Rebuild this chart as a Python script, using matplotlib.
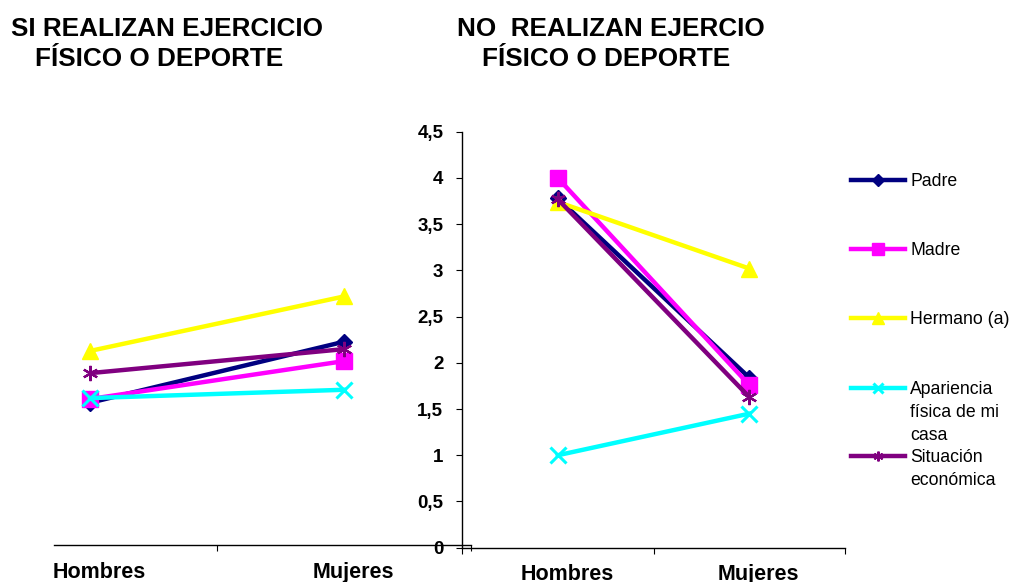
import matplotlib
matplotlib.use("Agg")
import matplotlib.pyplot as plt
from matplotlib.lines import Line2D
from matplotlib.transforms import ScaledTranslation

plt.rcParams['font.family'] = ['Liberation Sans', 'DejaVu Sans']

# ---- data ----
categories = ["Hombres", "Mujeres"]
series_names = ["Padre", "Madre", "Hermano (a)", "Apariencia\nfísica de mi\ncasa", "Situación\neconómica"]

si_padre = [1.54, 2.20]
si_madre = [1.58, 1.99]
si_hermano = [2.10, 2.69]
si_apariencia = [1.59, 1.68]
si_situacion = [1.86, 2.12]

no_padre = [3.78, 1.84]
no_madre = [4.00, 1.76]
no_hermano = [3.74, 3.02]
no_apariencia = [1.00, 1.45]
no_situacion = [3.77, 1.63]

y_ticks = [0, 0.5, 1, 1.5, 2, 2.5, 3, 3.5, 4, 4.5]
y_tick_labels = ["0", "0,5", "1", "1,5", "2", "2,5", "3", "3,5", "4", "4,5"]

title_si = ["SI REALIZAN EJERCICIO", "FÍSICO O DEPORTE"]
title_no = ["NO  REALIZAN EJERCIO", "FÍSICO O DEPORTE"]

# ---- styles ----
colors = ["#000080", "#FF00FF", "#FFFF00", "#00FFFF", "#800080"]
markers = ["D", "s", "^", "x", (6, 2, 0)]
msizes = [8, 12, 12, 12, 11]
mews = [1, 1, 1, 2.2, 1.6]

W, H = 1021, 582
fig = plt.figure(figsize=(W / 100, H / 100), dpi=100)
fig.patch.set_facecolor("white")


def rect(x0, y0, x1, y1):
    """pixel box (top-left origin) -> figure fraction [l, b, w, h]"""
    return [x0 / W, 1 - y1 / H, (x1 - x0) / W, (y1 - y0) / H]


def px_text(x, y, s, **kw):
    fig.text(x / W, 1 - y / H, s, **kw)


ax_si = fig.add_axes(rect(54, 545 - 4.5 * 92.4, 471, 545))
ax_no = fig.add_axes(rect(462, 131.7, 845, 547.7))

si_data = [si_padre, si_madre, si_hermano, si_apariencia, si_situacion]
no_data = [no_padre, no_madre, no_hermano, no_apariencia, no_situacion]
xs = list(range(len(categories)))

# left panel: no visible value axis
ax_si.set_xlim(-0.1417, 1.5)
ax_si.set_xticks([0.5, 1.5])
ax_si.spines["left"].set_visible(False)
ax_si.set_yticks([])

# right panel with value axis
ax_no.set_xlim(-0.5, 1.5)
ax_no.set_xticks([-0.5, 0.5, 1.5])
ax_no.spines["left"].set_linewidth(1.0)
ax_no.set_yticks(y_ticks)
ax_no.set_yticklabels(y_tick_labels, fontsize=13.5, fontweight="bold")
ax_no.tick_params(axis="y", length=4.5, width=0.8, direction="out", pad=9)

for ax, data in ((ax_si, si_data), (ax_no, no_data)):
    ax.set_facecolor("none")
    for vals, c, m, ms, mew in zip(data, colors, markers, msizes, mews):
        ax.plot(xs, vals, color=c, lw=3.2, marker=m, markersize=ms,
                markerfacecolor=c, markeredgecolor=c, markeredgewidth=mew,
                solid_joinstyle="miter", clip_on=False)
    ax.set_ylim(0, 4.5)
    for s in ("top", "right"):
        ax.spines[s].set_visible(False)
    ax.spines["bottom"].set_linewidth(1.0)
    ax.spines["bottom"].set_color("black")
    ax.tick_params(axis="x", which="major", length=4.5, width=0.8,
                   direction="out", labelbottom=False)
    # category labels on minor ticks
    ax.set_xticks(xs, minor=True)
    ax.tick_params(axis="x", which="minor", length=0, pad=12, labelsize=15.5)
    ax.set_xticklabels(categories, minor=True, fontsize=15.5, fontweight="bold")
    for lab in ax.get_xticklabels(minor=True):
        lab.set_fontweight("bold")
        lab.set_transform(lab.get_transform() + ScaledTranslation(0.09, 0, fig.dpi_scale_trans))

# titles
tkw = dict(fontsize=18.8, fontweight="bold", va="baseline")
px_text(11, 36, title_si[0], **tkw)
px_text(35, 66, title_si[1], **tkw)
px_text(457, 36, title_no[0], **tkw)
px_text(482, 66, title_no[1], **tkw)

# legend
legend_y = [180, 249, 318, 388, 456]
legend_ms = [6, 8, 8, 7, 7]
for name, ly, c, m, ms, mew in zip(series_names, legend_y, colors, markers, legend_ms, mews):
    fig.add_artist(Line2D([851 / W, 905 / W], [1 - ly / H, 1 - ly / H], color=c, lw=3.2,
                          transform=fig.transFigure))
    fig.add_artist(Line2D([878 / W], [1 - ly / H], color=c, lw=0, marker=m, markersize=ms,
                          markerfacecolor=c, markeredgecolor=c, markeredgewidth=mew,
                          transform=fig.transFigure))
    for i, line in enumerate(name.split("\n")):
        px_text(910, ly + 6.3 + i * 23, line, fontsize=12.7, va="baseline")

fig.savefig("out.png", dpi=100, facecolor="white")
